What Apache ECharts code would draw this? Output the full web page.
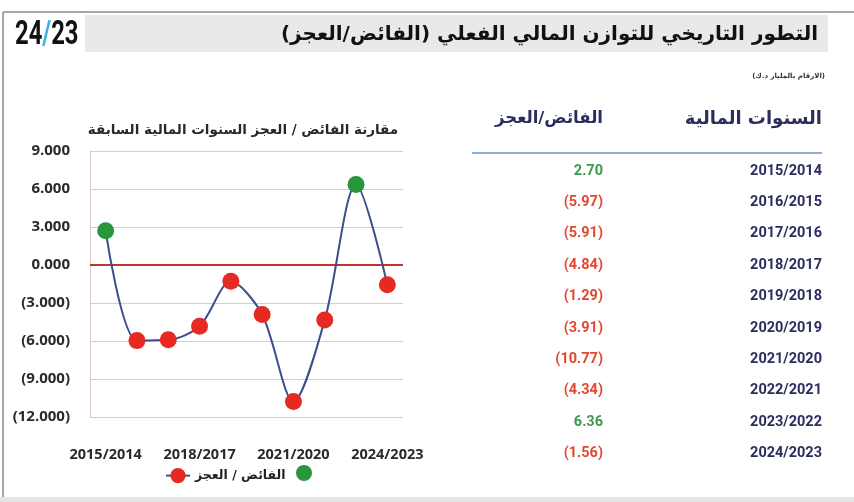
<!DOCTYPE html>
<html>
<head>
<meta charset="utf-8">
<script src="https://cdn.jsdelivr.net/npm/echarts@6/dist/echarts.min.js"></script>
<style>
html, body { margin: 0; padding: 0; background: #fff; }
#chart { width: 854px; height: 502px; }
</style>
</head>
<body>
<div id="chart"></div>
<script>
// السنوات المالية
var years = ['2015/2014', '2016/2015', '2017/2016', '2018/2017', '2019/2018',
             '2020/2019', '2021/2020', '2022/2021', '2023/2022', '2024/2023'];
// الفائض / العجز (مليار د.ك)
var balance = [2.70, -5.97, -5.91, -4.84, -1.29, -3.91, -10.77, -4.34, 6.36, -1.56];

var RED = '#e62a22', GREEN = '#28963a';
var TXT_RED = '#e2472f', TXT_GREEN = '#3a9c4c', NAVY = '#2b2e5c';
var RLM = '\u200F';

function fmtTable(v) {
    return v < 0 ? '(' + Math.abs(v).toFixed(2) + ')' : v.toFixed(2);
}
function fmtAxis(v) {
    return v < 0 ? '(' + Math.abs(v).toFixed(3) + ')' : v.toFixed(3);
}
var tableValues = balance.map(fmtTable);

function txt(text, x, y, size, weight, color, align, family) {
    return {
        type: 'text',
        silent: true,
        style: {
            text: text, x: x, y: y,
            fontSize: size, fontWeight: weight || 'normal',
            fontFamily: family || 'DejaVu Sans',
            fill: color || '#222',
            align: align || 'left', textAlign: align || 'left',
            verticalAlign: 'middle', textVerticalAlign: 'middle'
        }
    };
}

var chart = echarts.init(document.getElementById('chart'));

var option = {
    backgroundColor: '#fff',
    animation: false,
    grid: [
        // line chart
        { left: 90, top: 151, width: 313, height: 266 },
        // table: values column
        { left: 605, top: 155.3, width: 100, height: 314 },
        // table: years column
        { left: 824, top: 155.3, width: 20, height: 314 }
    ],
    xAxis: [
        {
            gridIndex: 0,
            type: 'category',
            data: years,
            boundaryGap: true,
            axisLine: { show: false },
            axisTick: { show: false },
            axisLabel: {
                interval: 2, margin: 30,
                fontSize: 14.5, fontWeight: 'bold', fontFamily: 'Open Sans',
                color: '#2a2a2a'
            }
        },
        { gridIndex: 1, type: 'value', show: false },
        { gridIndex: 2, type: 'value', show: false }
    ],
    yAxis: [
        {
            gridIndex: 0,
            type: 'value',
            min: -12, max: 9, interval: 3,
            axisLine: { show: true, lineStyle: { color: '#dccbc8', width: 1 } },
            axisTick: { show: false },
            splitLine: { lineStyle: { color: '#dccbc8', width: 1.2 } },
            axisLabel: {
                formatter: fmtAxis, margin: 20,
                fontSize: 15, fontWeight: 'bold', fontFamily: 'Open Sans',
                color: '#2a2a2a'
            }
        },
        {
            gridIndex: 1,
            type: 'category',
            inverse: true,
            data: tableValues,
            axisLine: { show: false },
            axisTick: { show: false },
            axisLabel: {
                interval: 0, margin: 2,
                fontSize: 14.5, fontWeight: 'bold', fontFamily: 'Roboto',
                color: function (val, idx) { return balance[idx] < 0 ? TXT_RED : TXT_GREEN; }
            }
        },
        {
            gridIndex: 2,
            type: 'category',
            inverse: true,
            data: years,
            axisLine: { show: false },
            axisTick: { show: false },
            axisLabel: {
                interval: 0, margin: 2,
                fontSize: 14.5, fontWeight: 'bold', fontFamily: 'Roboto',
                color: NAVY
            }
        }
    ],
    legend: {
        left: 160, top: 463,
        itemWidth: 24, itemHeight: 19, itemGap: 8,
        textStyle: { fontSize: 12.5, fontWeight: 'bold', fontFamily: 'DejaVu Sans', color: '#222' },
        data: ['الفائض / العجز']
    },
    series: [
        {
            name: 'الفائض / العجز',
            type: 'line',
            xAxisIndex: 0, yAxisIndex: 0,
            smooth: 0.3,
            symbol: 'circle',
            symbolSize: 17,
            lineStyle: { color: '#3d4e8c', width: 2 },
            itemStyle: { color: RED },
            data: balance.map(function (v) {
                return v >= 0 ? { value: v, itemStyle: { color: GREEN } } : v;
            }),
            markLine: {
                silent: true,
                symbol: 'none',
                label: { show: false },
                lineStyle: { color: '#c0342c', width: 2, type: 'solid' },
                data: [{ yAxis: 0 }],
                z: 1
            },
            z: 3
        }
    ],
    graphic: [
        // frame
        { type: 'line', silent: true, shape: { x1: 3, y1: 12, x2: 854, y2: 12 }, style: { stroke: '#8a8a8a', lineWidth: 1.5 } },
        { type: 'line', silent: true, shape: { x1: 3, y1: 12, x2: 3, y2: 497 }, style: { stroke: '#8a8a8a', lineWidth: 1.5 } },
        { type: 'rect', silent: true, shape: { x: 0, y: 497, width: 854, height: 5 }, style: { fill: '#e4e4e4' } },
        // header bar
        { type: 'rect', silent: true, shape: { x: 85, y: 15, width: 743, height: 37 }, style: { fill: '#e9e9ea' } },
        {
            type: 'text', silent: true, x: 15, y: 35, scaleX: 0.7,
            style: {
                text: '{a|24}{b|/}{a|23}', x: 0, y: 0,
                verticalAlign: 'middle', textVerticalAlign: 'middle',
                rich: {
                    a: { fontSize: 34, fontWeight: 'bold', fontFamily: 'Roboto', fill: '#111', color: '#111' },
                    b: { fontSize: 34, fontWeight: 'bold', fontFamily: 'Roboto', fill: '#39b2e6', color: '#39b2e6' }
                }
            }
        },
        txt(RLM + 'التطور التاريخي للتوازن المالي الفعلي (الفائض/العجز)' + RLM, 818, 35, 20, 'bold', '#111', 'right'),
        txt(RLM + '(الارقام بالمليار د.ك)' + RLM, 825, 76, 7, 'bold', '#333', 'right'),
        // chart title
        txt('مقارنة الفائض / العجز السنوات المالية السابقة', 243, 130, 13.5, 'bold', '#2a2a2a', 'center'),
        // table header
        txt('السنوات المالية', 822, 119, 18, 'bold', NAVY, 'right'),
        txt('الفائض/العجز', 603, 119, 16.5, 'bold', NAVY, 'right'),
        { type: 'line', silent: true, shape: { x1: 472, y1: 153, x2: 822, y2: 153 }, style: { stroke: '#8ab0d4', lineWidth: 2 } },
        // green legend marker
        { type: 'circle', silent: true, shape: { cx: 304, cy: 473, r: 8 }, style: { fill: GREEN } }
    ]
};

chart.setOption(option);
</script>
</body>
</html>
